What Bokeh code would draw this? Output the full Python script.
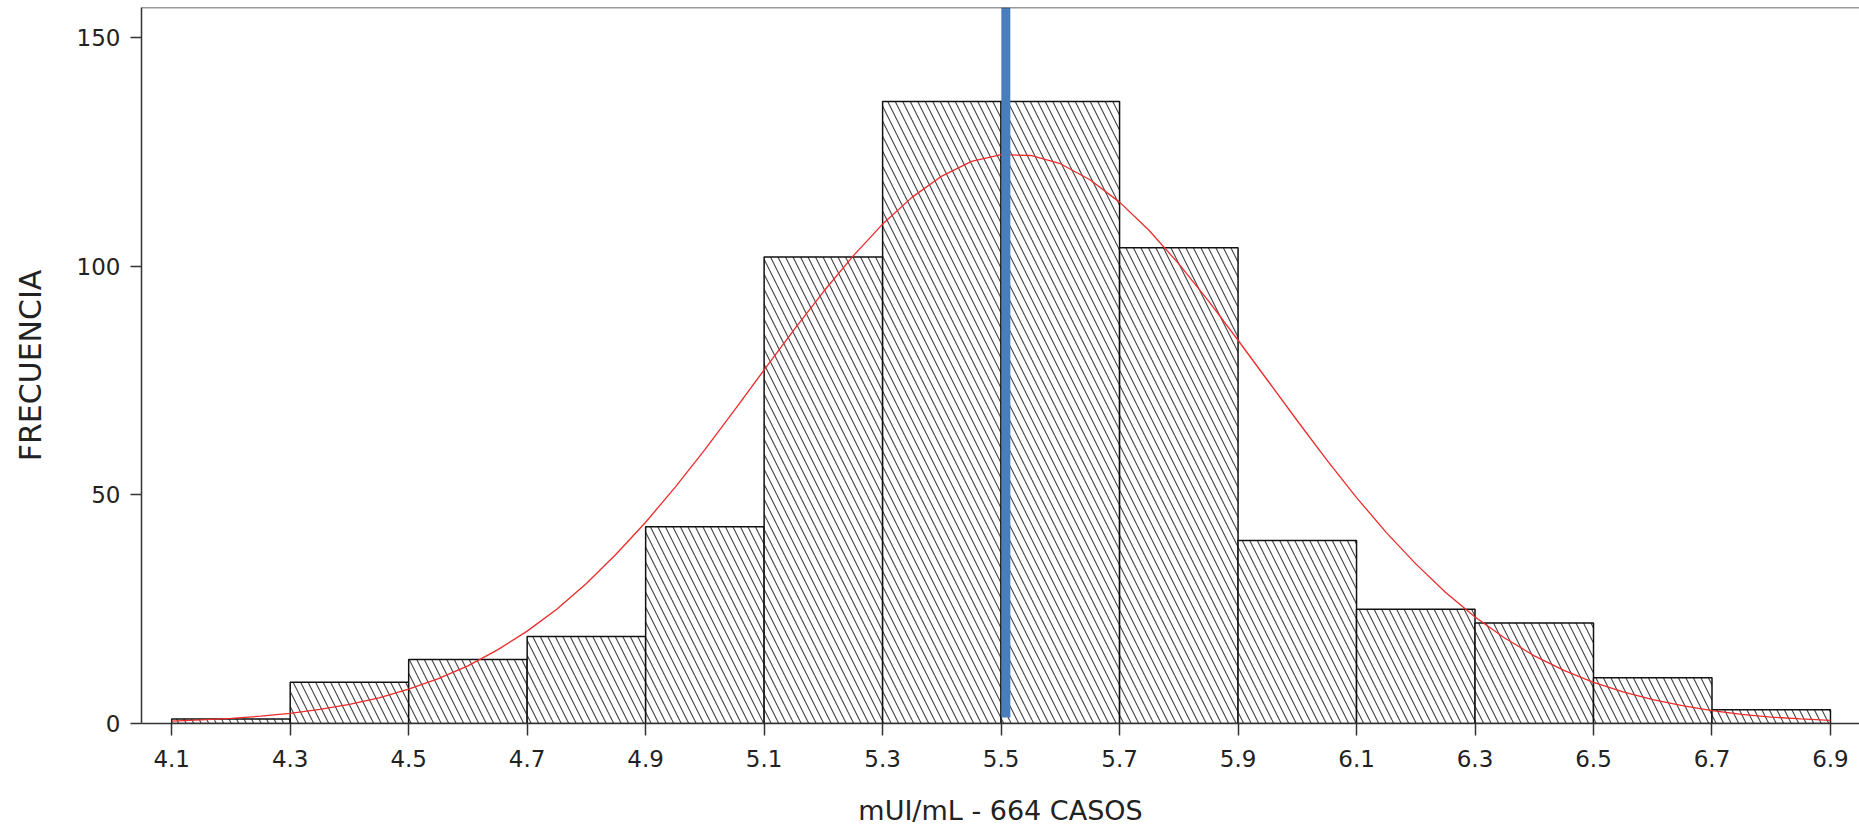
from bokeh.plotting import figure
from bokeh.models import Range1d, FixedTicker, Span, NumeralTickFormatter, ColumnDataSource
from bokeh.embed import file_html
from bokeh.resources import INLINE

# ---- data ----
bin_left = [4.1, 4.3, 4.5, 4.7, 4.9, 5.1, 5.3, 5.5, 5.7, 5.9, 6.1, 6.3, 6.5, 6.7]
bin_right = [4.3, 4.5, 4.7, 4.9, 5.1, 5.3, 5.5, 5.7, 5.9, 6.1, 6.3, 6.5, 6.7, 6.9]
counts = [1, 9, 14, 19, 43, 102, 136, 136, 104, 40, 25, 22, 10, 3]

curve_x = [4.10, 4.15, 4.20, 4.25, 4.30, 4.35, 4.40, 4.45, 4.50, 4.55,
           4.60, 4.65, 4.70, 4.75, 4.80, 4.85, 4.90, 4.95, 5.00, 5.05,
           5.10, 5.15, 5.20, 5.25, 5.30, 5.35, 5.40, 5.45, 5.50, 5.55,
           5.60, 5.65, 5.70, 5.75, 5.80, 5.85, 5.90, 5.95, 6.00, 6.05,
           6.10, 6.15, 6.20, 6.25, 6.30, 6.35, 6.40, 6.45, 6.50, 6.55,
           6.60, 6.65, 6.70, 6.75, 6.80, 6.85, 6.90]
curve_y = [0.5, 0.8, 1.1, 1.6, 2.2, 3.1, 4.2, 5.6, 7.5, 9.8,
           12.6, 16.1, 20.2, 25.0, 30.6, 37.0, 44.0, 51.7, 59.9, 68.5,
           77.3, 86.0, 94.4, 102.2, 109.2, 115.1, 119.7, 122.9, 124.4, 124.2,
           122.4, 118.9, 114.0, 107.8, 100.5, 92.4, 83.8, 75.0, 66.2, 57.6,
           49.4, 41.8, 34.9, 28.7, 23.3, 18.7, 14.8, 11.6, 9.0, 6.9,
           5.2, 3.9, 2.8, 2.0, 1.4, 1.0, 0.7]

mean_x = 5.508
mean_line_bottom = 1.3

x_ticks = [4.1, 4.3, 4.5, 4.7, 4.9, 5.1, 5.3, 5.5, 5.7, 5.9, 6.1, 6.3, 6.5, 6.7, 6.9]
y_ticks = [0, 50, 100, 150]
x_label = "mUI/mL - 664 CASOS"
y_label = "FRECUENCIA"

X_START, X_END = 4.049, 6.949
Y_START, Y_END = 0, 156.56

FONT = "DejaVu Sans"
TEXT_COLOR = "#222222"
AXIS_COLOR = "#333333"

p = figure(width=1859, height=832, output_backend="svg", toolbar_location=None,
           x_range=Range1d(X_START, X_END), y_range=Range1d(Y_START, Y_END),
           min_border_left=141, min_border_right=0, min_border_top=7, min_border_bottom=109)

p.background_fill_color = "white"
p.border_fill_color = "white"
p.outline_line_color = None
p.xgrid.visible = False
p.ygrid.visible = False

bars = ColumnDataSource(dict(left=bin_left, right=bin_right, top=counts, bottom=[0] * len(counts)))
p.quad(left="left", right="right", top="top", bottom="bottom", source=bars,
       fill_color="white", line_color="#111111", line_width=1.5,
       hatch_pattern="\\", hatch_color="#444444", hatch_scale=15, hatch_weight=1.1)

p.line(curve_x, curve_y, line_color="#EE2a2a", line_width=1.3)

p.segment(x0=[mean_x], y0=[mean_line_bottom], x1=[mean_x], y1=[Y_END],
          line_color="#4A7EBB", line_width=9)

top_line = Span(location=Y_END, dimension="width", line_color=AXIS_COLOR, line_width=1.5)
p.add_layout(top_line)

# x axis
xa = p.xaxis[0]
xa.ticker = FixedTicker(ticks=x_ticks)
xa.formatter = NumeralTickFormatter(format="0.0")
xa.minor_tick_line_color = None
xa.major_tick_out = 12
xa.major_tick_in = 0
xa.major_tick_line_color = AXIS_COLOR
xa.major_tick_line_width = 1.5
xa.axis_line_color = AXIS_COLOR
xa.axis_line_width = 1.5
xa.major_label_text_font = FONT
xa.major_label_text_font_size = "23px"
xa.major_label_text_color = TEXT_COLOR
xa.major_label_standoff = 14
xa.axis_label = x_label
xa.axis_label_text_font = FONT
xa.axis_label_text_font_size = "27px"
xa.axis_label_text_font_style = "normal"
xa.axis_label_text_color = TEXT_COLOR
xa.axis_label_standoff = 25

# y axis
ya = p.yaxis[0]
ya.ticker = FixedTicker(ticks=y_ticks)
ya.minor_tick_line_color = None
ya.major_tick_out = 11
ya.major_tick_in = 0
ya.major_tick_line_color = AXIS_COLOR
ya.major_tick_line_width = 1.5
ya.axis_line_color = AXIS_COLOR
ya.axis_line_width = 1.5
ya.major_label_text_font = FONT
ya.major_label_text_font_size = "23px"
ya.major_label_text_color = TEXT_COLOR
ya.major_label_standoff = 10
ya.major_label_orientation = "horizontal"
ya.axis_label = y_label
ya.axis_label_text_font = FONT
ya.axis_label_text_font_size = "30px"
ya.axis_label_text_font_style = "normal"
ya.axis_label_text_color = TEXT_COLOR
ya.axis_label_standoff = 26

open("out.html", "w").write(file_html(p, INLINE))
